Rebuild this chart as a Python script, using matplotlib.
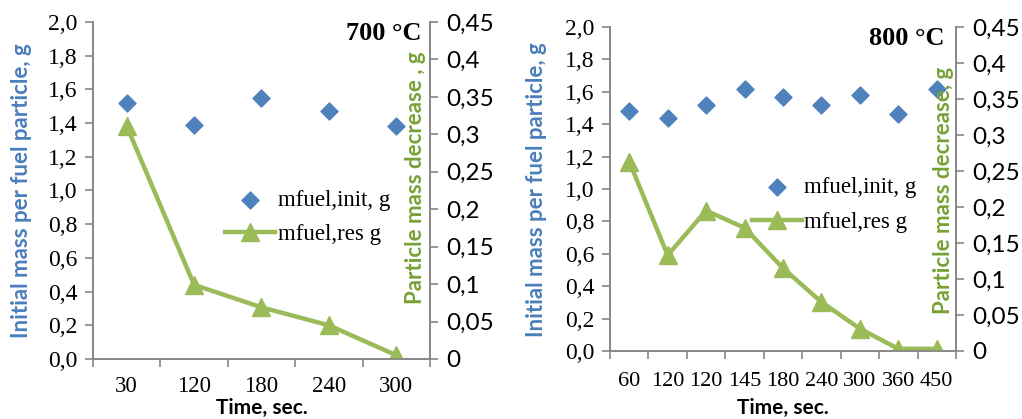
import matplotlib.pyplot as plt
import numpy as np

# 700 C
time_700 = ['30', '120', '180', '240', '300']
init_700 = [1.52, 1.39, 1.55, 1.47, 1.38]
res_700 = [0.311, 0.099, 0.069, 0.045, 0.005]

# 800 C
time_800 = ['60', '120', '120', '145', '180', '240', '300', '360', '450']
init_800 = [1.48, 1.44, 1.52, 1.62, 1.57, 1.52, 1.58, 1.46, 1.62]
res_800 = [0.263, 0.133, 0.195, 0.171, 0.115, 0.068, 0.031, 0.003, 0.003]

blue = '#4f81bd'
green = '#9bbb59'
blue_lab = '#4a7ebb'
green_lab = '#77a136'
grey = '#878787'
serif = 'Liberation Serif'
sans = 'Lato'

plt.rcParams['font.family'] = serif

fig = plt.figure(figsize=(10.22, 4.19), dpi=100)


def panel(rect, labels, init, res, title, rlabel, title_x, rlab_pos, llab_y, leg_anchor,
          xfs, xpad):
    ax = fig.add_axes(rect)
    n = len(labels)
    x = np.arange(n)
    ax2 = ax.twinx()
    h1 = ax.scatter(x, init, marker='D', s=75, color=blue, zorder=3)
    h2, = ax2.plot(x, res, color=green, lw=3.2, marker='^', ms=13)
    ax.set_xlim(-0.5, n - 0.5)
    ax.set_ylim(0, 2.0)
    ax2.set_ylim(0, 0.45)
    lt = np.arange(0, 2.01, 0.2)
    ax.set_yticks(lt)
    ax.set_yticklabels([('%.1f' % v).replace('.', ',') for v in lt])
    rt = np.arange(0, 0.451, 0.05)
    ax2.set_yticks(rt)
    ax2.set_yticklabels(['0'] + [('%g' % round(v, 2)).replace('.', ',') for v in rt[1:]])
    ax.set_xticks(np.arange(-0.5, n, 1.0))
    ax.set_xticklabels([])
    ax.set_xticks(x, minor=True)
    ax.set_xticklabels(labels, minor=True)
    for t in ax.get_yticklabels():
        t.set_fontfamily(serif)
        t.set_fontsize(17)
    for t in ax.get_xticklabels(minor=True):
        t.set_fontfamily(serif)
        t.set_fontsize(xfs)
    for t in ax2.get_yticklabels():
        t.set_fontfamily(sans)
        t.set_fontsize(17.5)
    ax.tick_params(axis='x', which='minor', length=0, pad=xpad)
    ax.tick_params(axis='y', pad=5)
    ax2.tick_params(axis='y', pad=6)
    for a in (ax, ax2):
        a.tick_params(which='major', length=6, width=1.2, color=grey)
        for s in a.spines.values():
            s.set_color(grey)
            s.set_linewidth(1.2)
        a.spines['top'].set_visible(False)
    ax.set_ylabel('Initial mass per fuel particle, g', family=sans, fontweight='bold',
                  fontsize=16, color=blue_lab)
    ax.yaxis.set_label_coords(-0.182, llab_y)
    ax2.set_ylabel(rlabel, family=sans, fontweight='bold', fontsize=16, color=green_lab)
    ax2.yaxis.set_label_coords(*rlab_pos)
    ax.set_xlabel('Time, sec.', family=sans, fontweight='bold', fontsize=15)
    ax.xaxis.set_label_coords(rect[0] + rect[2] / 2, 0.002, transform=fig.transFigure)
    ax.xaxis.label.set_va('bottom')
    ax2.text(title_x, 1.0, title, transform=ax2.transAxes, ha='right', va='top',
             family=serif, fontweight='bold', fontsize=19)
    ax2.legend([h1, h2], ['mfuel,init, g', 'mfuel,res g'], loc='center left',
               bbox_to_anchor=leg_anchor, frameon=False, prop={'family': serif, 'size': 16.5},
               handlelength=2.2, handletextpad=0.1, labelspacing=0.6)


panel([0.091, 0.1432, 0.3297, 0.8043], time_700, init_700, res_700, '700 °C',
      'Particle mass decrease , g', 0.976, (0.926, 0.537), 0.5, (0.33, 0.42), 16.5, 12)
panel([0.5969, 0.1623, 0.3385, 0.7733], time_800, init_800, res_800, '800 °C',
      'Particle mass decrease, g', 0.968, (0.934, 0.497), 0.497, (0.35, 0.45), 16, 15)

fig.savefig('out.png', dpi=100)
